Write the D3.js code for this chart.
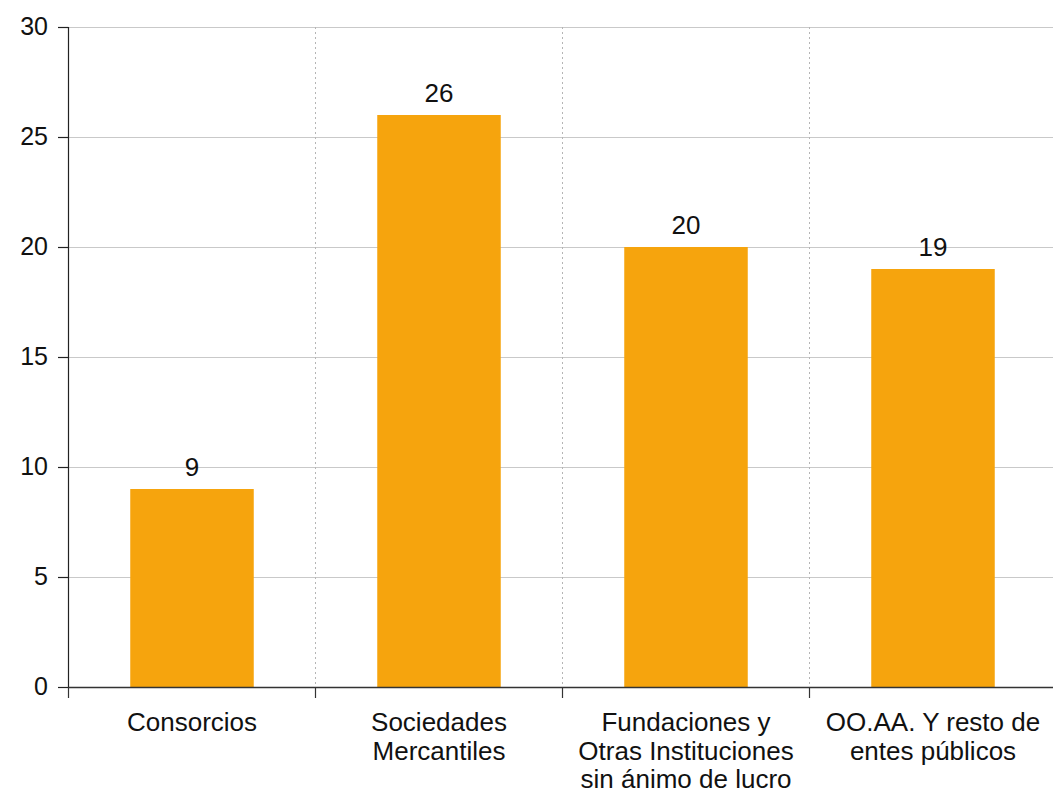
<!DOCTYPE html>
<html><head><meta charset="utf-8">
<script src="https://cdn.jsdelivr.net/npm/d3@7"></script>
<style>body{margin:0;background:#fff}svg{display:block}text{font-family:"Liberation Sans",Arial,sans-serif;fill:#111}</style>
</head><body>
<svg id="c" width="1053" height="791"></svg>
<script>
const categories = [["Consorcios"],["Sociedades","Mercantiles"],["Fundaciones y","Otras Instituciones","sin ánimo de lucro"],["OO.AA. Y resto de","entes públicos"]];
const values = [9, 26, 20, 19];
const yTicks = [0,5,10,15,20,25,30];

(function(){
const svg = d3.select("#c");
const pLeft = 68.5, pRight = 1056.5, pTop = 27, pBottom = 687;
const x = d3.scaleBand().domain(d3.range(categories.length)).range([pLeft, pRight]).paddingInner(0).paddingOuter(0);
const y = d3.scaleLinear().domain([0,30]).range([pBottom, pTop]);

// horizontal grid
svg.append("g").selectAll("line").data(yTicks.filter(t=>t>0)).join("line")
  .attr("x1", pLeft).attr("x2", 1053).attr("y1", d=>y(d)+0.5).attr("y2", d=>y(d)+0.5)
  .attr("stroke", "#c9c9c9").attr("stroke-width", 1.2);
// vertical dotted grid
svg.append("g").selectAll("line").data(d3.range(1, categories.length)).join("line")
  .attr("x1", d=>x(d)).attr("x2", d=>x(d)).attr("y1", pTop).attr("y2", pBottom)
  .attr("stroke", "#b5b5b5").attr("stroke-width", 1).attr("stroke-dasharray", "2,3");

// bars
const bw = x.bandwidth()*0.5;
svg.append("g").selectAll("rect").data(values).join("rect")
  .attr("x", (d,i)=>x(i)+x.bandwidth()/2-bw/2).attr("width", bw)
  .attr("y", d=>y(d)).attr("height", d=>y(0)-y(d)).attr("fill", "#f6a40d");

// value labels
svg.append("g").selectAll("text").data(values).join("text")
  .attr("x", (d,i)=>x(i)+x.bandwidth()/2).attr("y", d=>y(d)-13)
  .attr("text-anchor","middle").attr("font-size", 26).text(d=>d);

// y axis
const ya = svg.append("g");
ya.append("line").attr("x1",pLeft).attr("x2",pLeft).attr("y1",pTop).attr("y2",pBottom).attr("stroke","#222").attr("stroke-width",1.2);
ya.selectAll("line.t").data(yTicks).join("line").attr("class","t")
  .attr("x1",58).attr("x2",pLeft).attr("y1",d=>y(d)+0.5).attr("y2",d=>y(d)+0.5).attr("stroke","#222").attr("stroke-width",1.2);
ya.selectAll("text").data(yTicks).join("text")
  .attr("x",48).attr("y",d=>y(d)+8).attr("text-anchor","end").attr("font-size",25).text(d=>d);

// x axis
const xa = svg.append("g");
xa.append("line").attr("x1",pLeft).attr("x2",1053).attr("y1",pBottom+0.5).attr("y2",pBottom+0.5).attr("stroke","#333").attr("stroke-width",1.4);
xa.selectAll("line.t").data(d3.range(0, categories.length)).join("line").attr("class","t")
  .attr("x1",d=>x(d)).attr("x2",d=>x(d)).attr("y1",pBottom).attr("y2",pBottom+11).attr("stroke","#333").attr("stroke-width",1.2);
xa.selectAll("text").data(categories).join("text")
  .attr("x",(d,i)=>x(i)+x.bandwidth()/2).attr("y",731).attr("text-anchor","middle").attr("font-size",26)
  .each(function(lines){
    const t = d3.select(this), cx = t.attr("x");
    t.selectAll("tspan").data(lines).join("tspan")
      .attr("x", cx).attr("dy",(l,j)=>j?28.5:0).text(l=>l);
  });
})();
</script>
</body></html>
